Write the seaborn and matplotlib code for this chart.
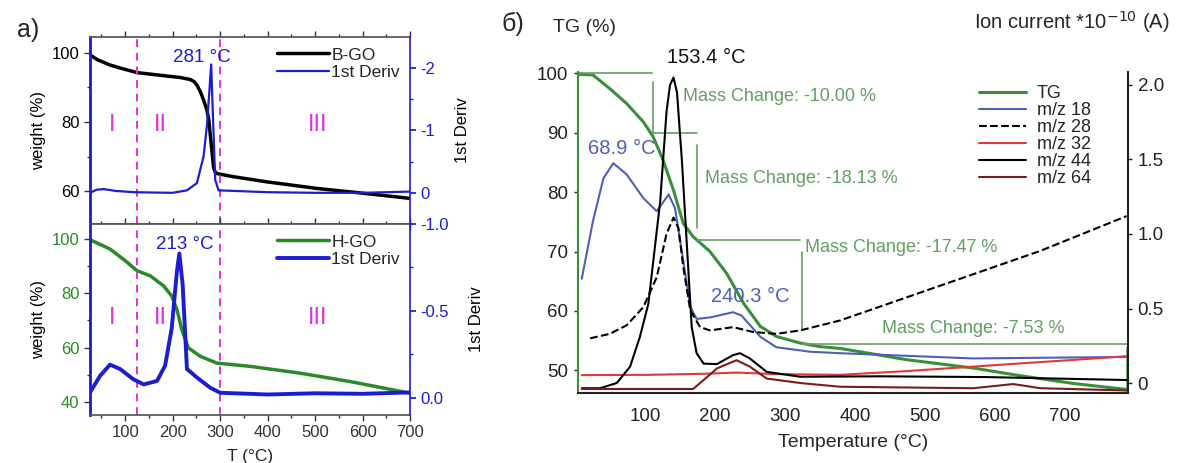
import numpy as np
import pandas as pd
import matplotlib
matplotlib.use("Agg")
import matplotlib.pyplot as plt
import matplotlib.transforms as mtransforms
from matplotlib.ticker import MultipleLocator, FixedLocator
import seaborn as sns

# ---- panel a) : B-GO (top) ----
bgo_T = [26, 42, 68, 90, 125, 188, 215, 237, 245, 251, 258, 265, 272, 276, 281, 286, 289, 293, 327, 398, 503, 608, 700]
bgo_w = [99.4, 98.0, 96.5, 95.6, 94.3, 93.3, 92.9, 92.3, 91.7, 90.7, 88.8, 86.4, 83.5, 80.6, 73.8, 67.0, 65.6, 65.1,
         64.2, 62.7, 60.8, 59.3, 57.9]
bgo_dT = [26, 40, 55, 80, 120, 200, 230, 251, 265, 272, 277.5, 281, 286, 289.5, 296.5, 400, 500, 600, 700]
bgo_d = [0.0, -0.05, -0.06, -0.03, -0.01, 0.0, -0.04, -0.156, -0.585, -1.07, -1.66, -2.06, -0.96, -0.21, -0.04, -0.01, 0.0, 0.0, -0.02]

# ---- panel a) : H-GO (bottom) ----
hgo_T = [26, 68, 100, 125, 153, 181, 198, 209, 219, 233, 258, 293, 363, 468, 574, 700]
hgo_w = [99.7, 96.3, 92.0, 88.3, 86.4, 82.7, 79.0, 74.0, 66.7, 59.9, 56.8, 54.3, 53.1, 50.6, 47.5, 43.2]
hgo_dT = [26, 47, 68, 89, 117, 139, 167, 184, 198, 209, 214, 221, 230, 251, 279, 300, 400, 500, 600, 700]
hgo_d = [-0.03, -0.125, -0.19, -0.165, -0.106, -0.076, -0.096, -0.184, -0.40, -0.73, -0.83, -0.65, -0.165,
         -0.116, -0.057, -0.028, -0.018, -0.025, -0.022, -0.03]

# ---- panel б) : TG + MS ----
tg_T = [21, 40, 64, 88, 112, 126, 140, 155, 169, 183, 207, 231, 255, 279, 302, 336, 364, 393, 488, 583, 645, 726, 802]
tg_w = [99.8, 99.7, 97.4, 94.9, 91.8, 89.3, 85.4, 80.3, 74.7, 72.5, 70.0, 66.3, 61.3, 57.4, 55.7, 54.6, 54.0, 53.7,
        51.8, 50.4, 49.2, 47.8, 46.8]
m18_T = [24, 40, 55, 69, 88, 112, 131, 148, 157, 169, 179, 188, 207, 240, 252, 279, 302, 350, 393, 583, 802]
m18_I = [0.70, 1.087, 1.375, 1.475, 1.40, 1.24, 1.153, 1.265, 1.175, 0.82, 0.51, 0.43, 0.44, 0.475, 0.453, 0.31,
         0.24, 0.21, 0.20, 0.165, 0.175]
m28_T = [36, 64, 88, 112, 131, 145, 155, 162, 169, 179, 193, 207, 240, 269, 302, 336, 393, 488, 583, 679, 802]
m28_I = [0.30, 0.33, 0.387, 0.51, 0.71, 1.0, 1.11, 1.04, 0.775, 0.487, 0.375, 0.353, 0.375, 0.342, 0.33, 0.353,
         0.42, 0.575, 0.73, 0.887, 1.12]
m32_T = [24, 120, 200, 245, 300, 393, 488, 583, 645, 726, 802]
m32_I = [0.053, 0.055, 0.062, 0.07, 0.06, 0.055, 0.08, 0.11, 0.13, 0.155, 0.18]
m44_T = [24, 50, 74, 93, 107, 119, 136, 145, 150, 155, 160, 167, 174, 181, 188, 198, 217, 240, 250, 264, 288, 336,
         450, 600, 802]
m44_I = [-0.035, -0.035, 0.0, 0.11, 0.31, 0.53, 1.22, 1.82, 2.0, 2.05, 1.95, 1.49, 0.93, 0.375, 0.2, 0.13, 0.127,
         0.187, 0.2, 0.165, 0.075, 0.042, 0.045, 0.04, 0.02]
m64_T = [24, 183, 198, 217, 245, 264, 288, 336, 393, 583, 640, 679, 802]
m64_I = [-0.04, -0.04, 0.02, 0.098, 0.153, 0.11, 0.03, 0.0, -0.025, -0.035, -0.007, -0.035, -0.05]

mass_levels = [100.0, 90.0, 71.87, 54.40, 46.87]
mass_changes = ["-10.00", "-18.13", "-17.47", "-7.53"]

BLUE = "#1c1cd2"
MAG = "#e030e0"
GREEN = "#2a8a2a"
TG_GREEN = "#3a8f3a"
ANN_GREEN = "#62a062"
SLATE = "#4f5fb8"

sns.set_theme(style="white")
plt.rcParams["font.family"] = ["Liberation Sans", "DejaVu Sans"]

fig = plt.figure(figsize=(11.77, 4.63), dpi=100)

ax1 = fig.add_axes([0.0765, 0.5162, 0.272, 0.4039])
ax2 = fig.add_axes([0.0765, 0.1037, 0.272, 0.4125])
ax1r = ax1.twinx()
ax2r = ax2.twinx()

sns.lineplot(x=bgo_T, y=bgo_w, ax=ax1, color="black", linewidth=2.5, label="B-GO", legend=False)
sns.lineplot(x=bgo_dT, y=bgo_d, ax=ax1r, color=BLUE, linewidth=1.6, label="1st Deriv", legend=False)
sns.lineplot(x=hgo_T, y=hgo_w, ax=ax2, color=GREEN, linewidth=2.5, label="H-GO", legend=False)
sns.lineplot(x=hgo_dT, y=hgo_d, ax=ax2r, color=BLUE, linewidth=2.8, label="1st Deriv", legend=False)

for ax, axr, ylim, rlim, numy, lab_color in [
        (ax1, ax1r, (50.5, 104.6), (0.5, -2.5), 79, "black"),
        (ax2, ax2r, (35.2, 105.5), (0.1, -1.0), 71, GREEN)]:
    ax.set_xlim(26, 700)
    ax.set_ylim(*ylim)
    axr.set_ylim(*rlim)
    for x in (125, 300):
        ax.axvline(x, color=MAG, linestyle=(0, (4, 3)), linewidth=1.4)
    for t, s in [(72, "I"), (174, "II"), (506, "III")]:
        ax.text(t, numy, s, color=MAG, fontsize=17, ha="center", va="center")
    ax.xaxis.set_major_locator(MultipleLocator(100))
    ax.xaxis.set_minor_locator(MultipleLocator(50))
    ax.yaxis.set_major_locator(MultipleLocator(20))
    ax.yaxis.set_minor_locator(MultipleLocator(10))
    ax.tick_params(axis="both", which="both", direction="out", length=4, width=1, colors="#333333",
                   labelsize=12, bottom=True, top=True, left=True)
    ax.tick_params(axis="x", which="minor", length=2.5)
    ax.tick_params(axis="y", which="minor", length=2.5)
    ax.tick_params(axis="y", labelcolor=lab_color)
    ax.set_ylabel("weight (%)", fontsize=12, color="black", labelpad=4)
    for side in ("top", "bottom"):
        ax.spines[side].set_color("#555555")
    ax.spines["left"].set_color(BLUE)
    ax.spines["left"].set_linewidth(2)
    ax.spines["right"].set_visible(False)
    axr.spines["right"].set_color(BLUE)
    axr.spines["right"].set_linewidth(1.2)
    for side in ("left", "top", "bottom"):
        axr.spines[side].set_visible(False)
    axr.tick_params(axis="y", which="both", direction="out", colors=BLUE, labelsize=12, length=4, right=True)
    axr.tick_params(axis="y", which="minor", length=2.5)
    axr.set_ylabel("1st Deriv", fontsize=12, color="black", labelpad=14)
    axr.grid(False)
    ax.grid(False)

ax1.tick_params(axis="x", labelbottom=False)
ax1r.yaxis.set_major_locator(FixedLocator([-2, -1, 0]))
ax1r.yaxis.set_minor_locator(FixedLocator([-1.5, -0.5]))
ax1r.set_yticklabels(["-2", "-1", "0"])
ax2r.yaxis.set_major_locator(FixedLocator([-1.0, -0.5, 0.0]))
ax2r.yaxis.set_minor_locator(FixedLocator([-0.75, -0.25]))
ax2r.set_yticklabels(["-1.0", "-0.5", "0.0"])
ax2.set_xlabel("T (°C)", fontsize=12.5, labelpad=6)
ax2.tick_params(axis="x", labelcolor="#333333")

ax1.text(262, 98.8, "281 °C", color=BLUE, fontsize=13.5, ha="center", va="center")
ax2.text(226, 98.1, "213 °C", color=BLUE, fontsize=13.5, ha="center", va="center")

h1, l1 = ax1.get_legend_handles_labels()
h1r, l1r = ax1r.get_legend_handles_labels()
ax1.legend(h1 + h1r, l1 + l1r, loc="upper right", bbox_to_anchor=(1.0, 1.0), frameon=False,
           fontsize=12.5, handlelength=3.0, handletextpad=0.1, labelspacing=0.15, borderaxespad=0.2)
h2, l2 = ax2.get_legend_handles_labels()
h2r, l2r = ax2r.get_legend_handles_labels()
ax2.legend(h2 + h2r, l2 + l2r, loc="upper right", bbox_to_anchor=(1.0, 1.0), frameon=False,
           fontsize=12.5, handlelength=3.0, handletextpad=0.1, labelspacing=0.15, borderaxespad=0.2)

fig.text(28 / 1177, 1 - 30 / 463, "a)", fontsize=18, ha="center", va="center")

# ---- panel б) ----
ax3 = fig.add_axes([578 / 1177, 1 - 393 / 463, 550 / 1177, 321 / 463])
ax3r = ax3.twinx()

sns.lineplot(x=tg_T, y=tg_w, ax=ax3, color=TG_GREEN, linewidth=2.2, label="TG", legend=False)
ms = [(m18_T, m18_I, SLATE, "-", "m/z 18"),
      (m28_T, m28_I, "black", "--", "m/z 28"),
      (m32_T, m32_I, "#e03a3a", "-", "m/z 32"),
      (m44_T, m44_I, "black", "-", "m/z 44"),
      (m64_T, m64_I, "#7a1c1c", "-", "m/z 64")]
for t, i, c, ls, lab in ms:
    sns.lineplot(x=t, y=i, ax=ax3r, color=c, linestyle=ls, linewidth=1.5, label=lab, legend=False)

ax3.set_xlim(18.6, 804)
ax3.set_ylim(46.2, 100.2)
ax3r.set_ylim(-0.067, 2.087)
ax3.xaxis.set_major_locator(FixedLocator([100, 200, 300, 400, 500, 600, 700]))
ax3.yaxis.set_major_locator(FixedLocator([50, 60, 70, 80, 90, 100]))
ax3r.yaxis.set_major_locator(FixedLocator([0, 0.5, 1.0, 1.5, 2.0]))
ax3r.set_yticklabels(["0", "0.5", "1.0", "1.5", "2.0"])
ax3.tick_params(axis="both", direction="out", length=3, width=1, colors="#222222", labelsize=13.5, pad=4)
ax3.tick_params(axis="x", pad=8)
ax3r.tick_params(axis="y", direction="out", length=3, width=1, colors="#222222", labelsize=13.5, pad=4)
ax3.spines["top"].set_visible(False)
ax3.spines["right"].set_visible(False)
ax3.spines["left"].set_color(TG_GREEN)
ax3.spines["left"].set_linewidth(1.5)
ax3.spines["bottom"].set_color("#222222")
ax3.spines["bottom"].set_linewidth(1.5)
for side in ("top", "left", "bottom"):
    ax3r.spines[side].set_visible(False)
ax3r.spines["right"].set_color("#222222")
ax3r.spines["right"].set_linewidth(1.5)
ax3.grid(False)
ax3r.grid(False)
ax3.set_xlabel("Temperature (°C)", fontsize=14, labelpad=6)

offset = mtransforms.ScaledTranslation(0.10, 0, fig.dpi_scale_trans)
for lbl in ax3.get_xticklabels():
    lbl.set_transform(lbl.get_transform() + offset)

# mass change brackets
br = dict(color=ANN_GREEN, linewidth=1.2, clip_on=False)
ax3.plot([18.6, 124], [mass_levels[0]] * 2, **br)
ax3.plot([125.3, 125.3], [98.5, mass_levels[1]], **br)
ax3.plot([125.3, 188], [mass_levels[1]] * 2, **br)
ax3.plot([188, 188], [87.9, 74.0], **br)
ax3.plot([188, 336], [mass_levels[2]] * 2, **br)
ax3.plot([338, 338], [70.0, 56.8], **br)
ax3.plot([338, 802], [mass_levels[3]] * 2, **br)
ax3.plot([803, 803], [53.8, mass_levels[4]], **br)
for (t, w), mc in zip([(168, 96.0), (200, 82.35), (343, 70.6), (453, 57.1)], mass_changes):
    ax3.text(t, w, f"Mass Change: {mc} %", color=ANN_GREEN, fontsize=13, ha="left", va="center")

ax3.text(202, 102.6, "153.4 °C", color="#111111", fontsize=14.5, ha="center", va="center", clip_on=False)
ax3.text(81, 87.4, "68.9 °C", color=SLATE, fontsize=14.5, ha="center", va="center")
ax3.text(264, 62.4, "240.3 °C", color=SLATE, fontsize=14.5, ha="center", va="center")

h3, l3 = ax3.get_legend_handles_labels()
h3r, l3r = ax3r.get_legend_handles_labels()
fig.legend(h3 + h3r, l3 + l3r, loc="upper left", bbox_to_anchor=(972 / 1177, 1 - 78 / 463), frameon=False,
           fontsize=13, handlelength=2.6, handletextpad=0.6, labelspacing=0.0, borderaxespad=0.0)

fig.text(553 / 1177, 1 - 28 / 463, "TG (%)", fontsize=14, ha="left", va="center")
fig.text(1170 / 1177, 1 - 22 / 463, r"Ion current *10$^{-10}$ (A)", fontsize=14.5, ha="right", va="center")
fig.text(513 / 1177, 1 - 24 / 463, "б)", fontsize=18, ha="center", va="center")

fig.savefig("out.png", dpi=100, facecolor="white")
